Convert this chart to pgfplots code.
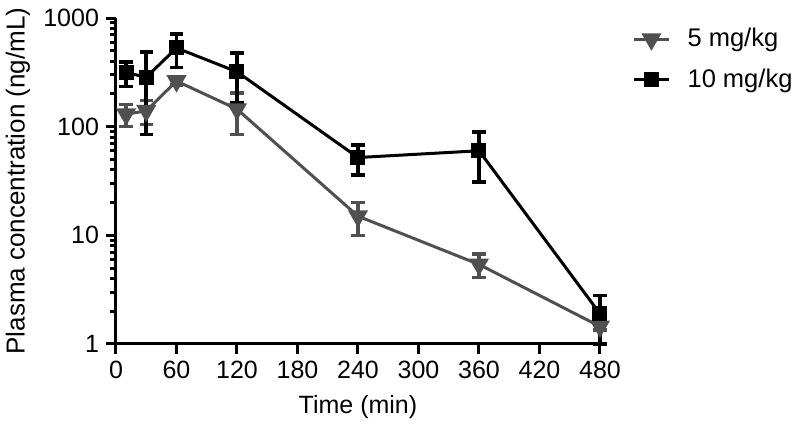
\documentclass[border=0pt]{standalone}
\usepackage{fontspec}
\setmainfont{Liberation Sans}
\usepackage{pgfplots}
\usepackage{pgfplotstable}
\pgfplotsset{compat=1.18}
\definecolor{dgray}{RGB}{80,80,80}
\pgfplotstableread{
t y e
10 130 30
30 140 35
60 263 20
120 145 60
240 15 5
360 5.4 1.3
480 1.45 0.1
}\lowdose
\pgfplotstableread{
t y e
10 315 80
30 285 200
60 530 180
120 320 155
240 52 16
360 60 29
480 1.9 0.9
}\highdose
\begin{document}
\begin{tikzpicture}
\begin{axis}[
  at={(0,0)}, anchor=south west,
  scale only axis, width=242pt, height=163pt,
  ymode=log, ymin=1, ymax=1000,
  xmin=0, xmax=480,
  xtick={0,60,...,480},
  ytick={1,10,100,1000}, yticklabels={1,10,100,1000},
  minor ytick={}, 
  axis lines*=left,
  axis line style={line width=1.5pt, -},
  tick style={line width=1.5pt, black},
  tick align=outside,
  major tick length=5pt,
  font=\fontsize{12.5}{15}\selectfont,
  /pgf/number format/assume math mode=true,
  xlabel={Time (min)}, ylabel={Plasma concentration (ng/mL)},
  xlabel style={at={(axis description cs:0.5,0)}, anchor=center, yshift=-31.5pt},
  ylabel style={at={(axis description cs:0,0.5)}, anchor=center, yshift=49pt,
    font=\fontsize{13}{15}\selectfont},
  clip=false,
  legend style={at={(axis description cs:1.0535,0.873)}, anchor=west, draw=none, fill=none,
    font=\fontsize{12.75}{14}\selectfont, row sep=5.5pt, column sep=3.5pt, legend cell align=left,
    nodes={inner xsep=5pt}},
  legend image code/.code={
    \draw[#1, mark repeat=2, mark phase=2] plot coordinates {(0cm,0cm) (0.31cm,0cm) (0.62cm,0cm)};
  },
]
\addplot[dgray, line width=1.5pt, mark=triangle*, mark options={rotate=180, scale=1.0, fill=dgray, solid},
  mark size=4.3pt,
  error bars/.cd, y dir=both, y explicit,
  error bar style={line width=1.75pt, dgray},
  error mark options={rotate=90, mark size=3.3pt, line width=1.75pt, dgray}]
  table[x=t, y=y, y error=e] {\lowdose};
\addlegendentry{5 mg/kg}
\addplot[black, line width=1.5pt, mark=square*, mark size=3pt,
  error bars/.cd, y dir=both, y explicit,
  error bar style={line width=1.75pt, black},
  error mark options={rotate=90, mark size=3.3pt, line width=1.75pt, black}]
  table[x=t, y=y, y error=e] {\highdose};
\addlegendentry{10 mg/kg}
\end{axis}
\pgfresetboundingbox
\path[use as bounding box] (-58pt,-41.5pt) rectangle (342pt,172pt);
\end{tikzpicture}
\end{document}
